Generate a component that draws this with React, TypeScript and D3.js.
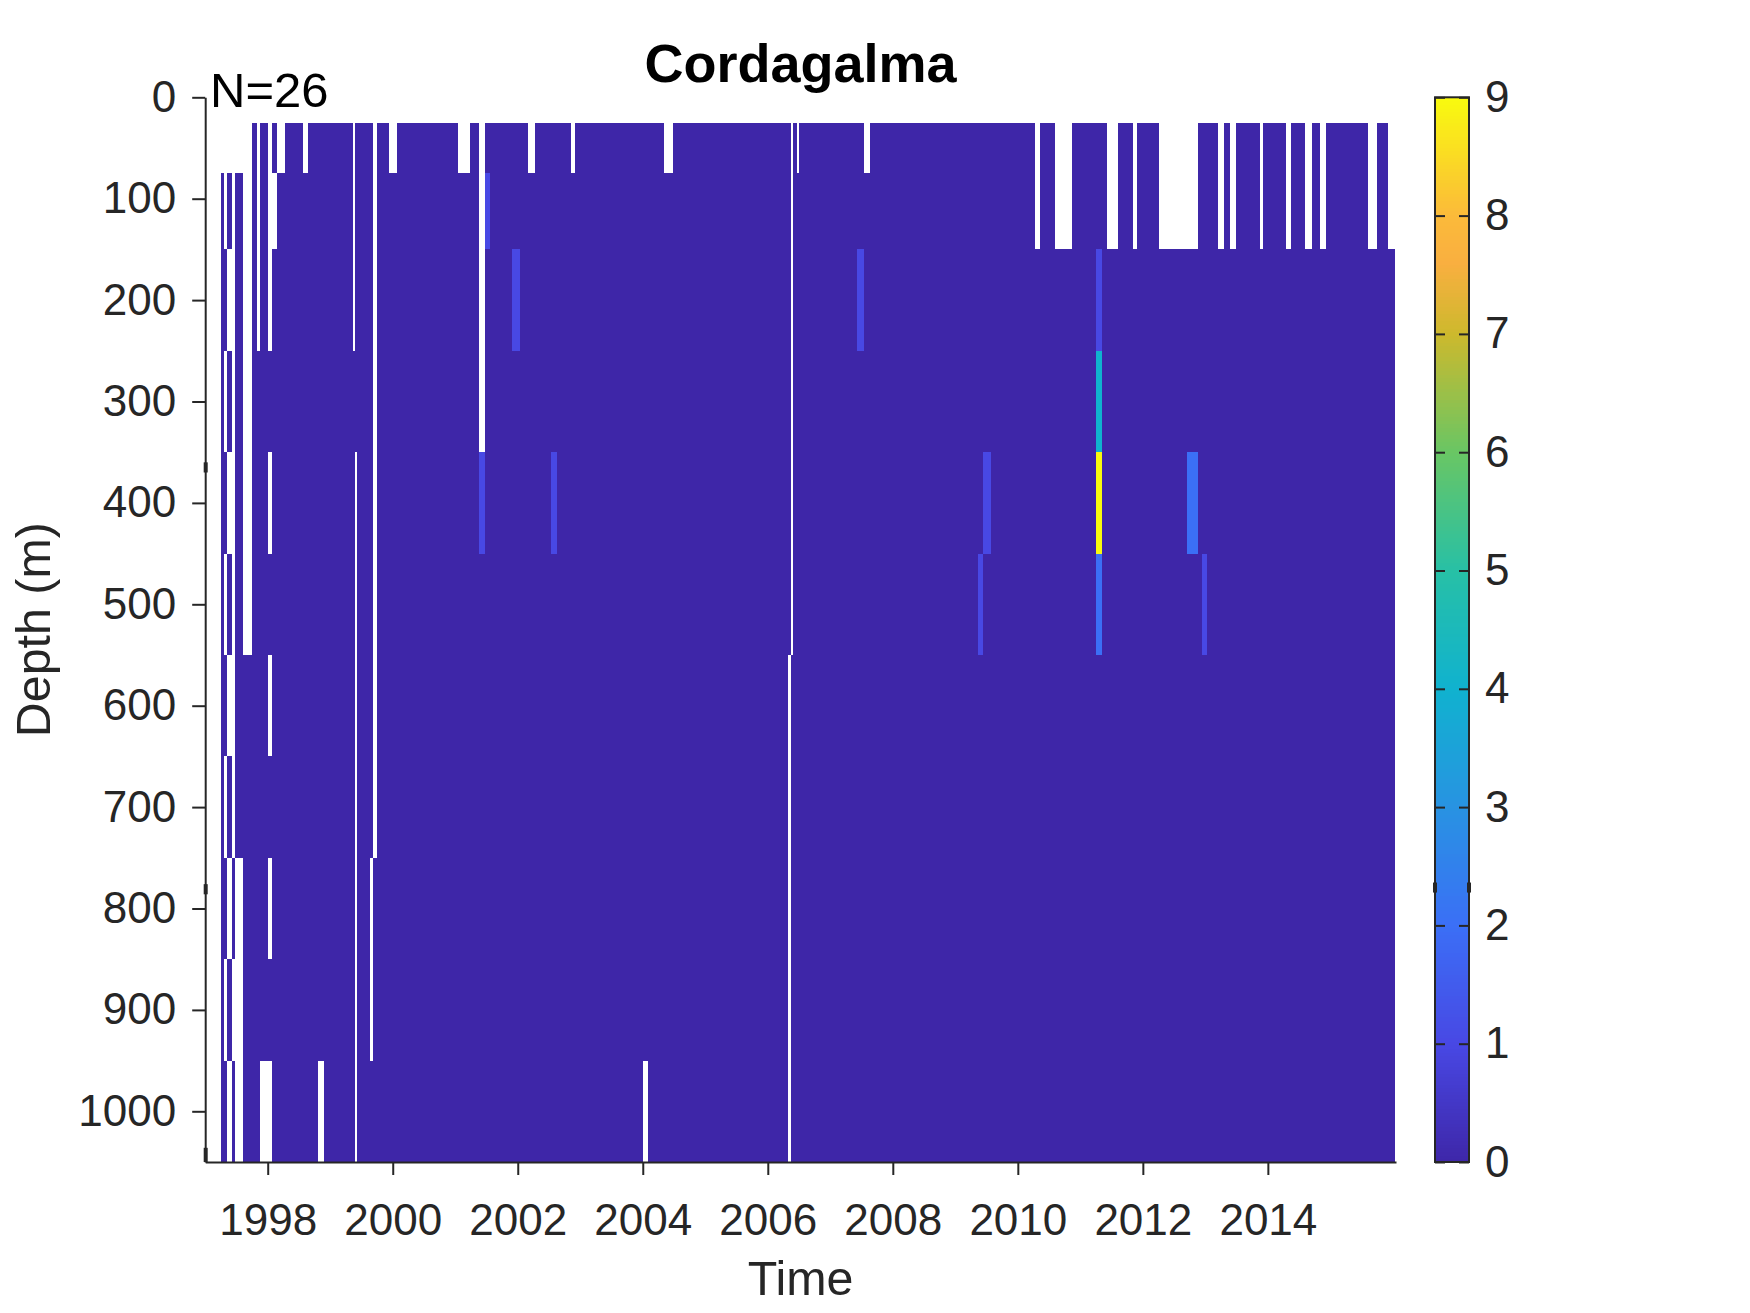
import React, { useEffect, useRef } from 'react'
import * as d3 from 'd3'

// ---- data ----
const title = 'Cordagalma'
const countLabel = 'N=26'

// depth bin edges (m): bins centred on 50, 100, 200 ... 1000
const depthEdges = [25, 75, 150, 250, 350, 450, 550, 650, 750, 850, 950, 1050]
const depthTicks = [0, 100, 200, 300, 400, 500, 600, 700, 800, 900, 1000]
const yearTicks = [1998, 2000, 2002, 2004, 2006, 2008, 2010, 2012, 2014]
const colorTicks = [0, 1, 2, 3, 4, 5, 6, 7, 8, 9]

// colour stops of the colour bar (value, colour)
const colorStops: [number, string][] = [
  [0, '#3e26a8'],
  [1, '#4848e4'],
  [2, '#3b6ff6'],
  [3, '#2893e2'],
  [4, '#10b2cf'],
  [5, '#27c0a6'],
  [6, '#69c664'],
  [7, '#cdb92d'],
  [7.6, '#f9af40'],
  [8, '#fbba3a'],
  [9, '#f9fb0e'],
]

// time columns: [start year, end year, value per depth bin] ('.' = no data)
const columns: [number, number, string][] = [
  [1997.253, 1997.301, '.0000000000'],
  [1997.301, 1997.354, '..0.0.0.0.0'],
  [1997.354, 1997.424, '.0.0.0.0.0.'],
  [1997.424, 1997.477, '........0.0'],
  [1997.477, 1997.61, '.0000000...'],
  [1997.61, 1997.754, '......00000'],
  [1997.754, 1997.824, '00000000000'],
  [1997.824, 1997.877, '...00000000'],
  [1997.877, 1998.01, '0000000000.'],
  [1998.01, 1998.074, '...0.0.0.0.'],
  [1998.074, 1998.144, '0.000000000'],
  [1998.144, 1998.277, '.0000000000'],
  [1998.277, 1998.57, '00000000000'],
  [1998.57, 1998.65, '.0000000000'],
  [1998.65, 1998.81, '00000000000'],
  [1998.81, 1998.9, '0000000000.'],
  [1998.9, 1999.37, '00000000000'],
  [1999.37, 1999.395, '...00000000'],
  [1999.395, 1999.43, '0000.......'],
  [1999.43, 1999.637, '00000000000'],
  [1999.637, 1999.69, '00000000..0'],
  [1999.69, 1999.744, '........000'],
  [1999.744, 1999.941, '00000000000'],
  [1999.941, 2000.064, '.0000000000'],
  [2000.064, 2001.05, '00000000000'],
  [2001.05, 2001.237, '.0000000000'],
  [2001.237, 2001.381, '00000000000'],
  [2001.381, 2001.477, '....1000000'],
  [2001.477, 2001.557, '01000000000'],
  [2001.557, 2001.914, '00000000000'],
  [2001.914, 2002.037, '00100000000'],
  [2002.037, 2002.17, '00000000000'],
  [2002.17, 2002.28, '.0000000000'],
  [2002.28, 2002.53, '00000000000'],
  [2002.53, 2002.63, '00001000000'],
  [2002.63, 2002.853, '00000000000'],
  [2002.853, 2002.917, '.0000000000'],
  [2002.917, 2004.0, '00000000000'],
  [2004.0, 2004.08, '0000000000.'],
  [2004.08, 2004.341, '00000000000'],
  [2004.341, 2004.48, '.0000000000'],
  [2004.48, 2006.33, '00000000000'],
  [2006.33, 2006.37, '000000.....'],
  [2006.37, 2006.405, '......00000'],
  [2006.405, 2006.464, '00000000000'],
  [2006.464, 2006.501, '.0000000000'],
  [2006.501, 2007.424, '00000000000'],
  [2007.424, 2007.541, '00100000000'],
  [2007.541, 2007.637, '.0000000000'],
  [2007.637, 2009.36, '00000000000'],
  [2009.36, 2009.44, '00000100000'],
  [2009.44, 2009.57, '00001000000'],
  [2009.57, 2010.277, '00000000000'],
  [2010.277, 2010.357, '..000000000'],
  [2010.357, 2010.597, '00000000000'],
  [2010.597, 2010.874, '..000000000'],
  [2010.874, 2011.253, '00000000000'],
  [2011.253, 2011.344, '00149200000'],
  [2011.344, 2011.424, '00000000000'],
  [2011.424, 2011.61, '..000000000'],
  [2011.61, 2011.84, '00000000000'],
  [2011.84, 2011.914, '..000000000'],
  [2011.914, 2012.261, '00000000000'],
  [2012.261, 2012.71, '..000000000'],
  [2012.71, 2012.89, '..002000000'],
  [2012.89, 2012.95, '00000000000'],
  [2012.95, 2013.02, '00000100000'],
  [2013.02, 2013.21, '00000000000'],
  [2013.21, 2013.301, '..000000000'],
  [2013.301, 2013.397, '00000000000'],
  [2013.397, 2013.493, '..000000000'],
  [2013.493, 2013.877, '00000000000'],
  [2013.877, 2013.93, '..000000000'],
  [2013.93, 2014.293, '00000000000'],
  [2014.293, 2014.373, '..000000000'],
  [2014.373, 2014.597, '00000000000'],
  [2014.597, 2014.714, '..000000000'],
  [2014.714, 2014.837, '00000000000'],
  [2014.837, 2014.933, '..000000000'],
  [2014.933, 2015.61, '00000000000'],
  [2015.61, 2015.749, '..000000000'],
  [2015.749, 2015.93, '00000000000'],
  [2015.93, 2016.037, '..000000000'],
]

// small rendering blips visible on the depth axis (m) and colour bar (value)
const axisBlips: [number, number][] = [[360, 370], [776, 786], [1036, 1050]]
const colorbarBlip = 2.32

const W = 1750
const H = 1313
const M = { left: 205.2, right: 1396, top: 97.3, bottom: 1162 }
const CB = { x0: 1435, x1: 1469 }
const FONT = '"Liberation Sans", Arial, Helvetica, sans-serif'
const INK = '#262626'

export default function App() {
  const svgRef = useRef<SVGSVGElement | null>(null)

  useEffect(() => {
    const svg = d3.select(svgRef.current)
    svg.selectAll('*').remove()

    const x = d3.scaleLinear().domain([1997, 2016.05]).range([M.left, M.right])
    const y = d3.scaleLinear().domain([0, 1050]).range([M.top, M.bottom])
    const color = d3
      .scaleLinear<string>()
      .domain(colorStops.map(d => d[0]))
      .range(colorStops.map(d => d[1]))
      .interpolate(d3.interpolateRgb)
      .clamp(true)

    // heat map cells
    const cells = columns.flatMap(([t0, t1, code]) =>
      code
        .split('')
        .map((c, r) => ({ t0, t1, r, v: c === '.' ? null : Number(c) }))
        .filter(d => d.v !== null)
    )
    svg
      .append('g')
      .attr('shape-rendering', 'crispEdges')
      .selectAll('rect')
      .data(cells)
      .join('rect')
      .attr('x', d => x(d.t0))
      .attr('width', d => x(d.t1) - x(d.t0))
      .attr('y', d => y(depthEdges[d.r]))
      .attr('height', d => y(depthEdges[d.r + 1]) - y(depthEdges[d.r]))
      .attr('fill', d => color(d.v as number))

    // axes
    const styleAxis = (g: any) => {
      g.select('.domain').attr('stroke', INK).attr('stroke-width', 2)
      g.selectAll('.tick line').attr('stroke', INK).attr('stroke-width', 2)
      g.selectAll('.tick text')
        .attr('fill', INK)
        .attr('font-size', 44)
        .attr('font-family', FONT)
    }

    svg
      .append('g')
      .attr('transform', `translate(${M.left},0)`)
      .call(d3.axisLeft(y).tickValues(depthTicks).tickFormat(d3.format('d')).tickSize(13).tickSizeOuter(0).tickPadding(16))
      .call(styleAxis)

    svg
      .append('g')
      .attr('transform', `translate(0,${M.bottom})`)
      .call(d3.axisBottom(x).tickValues(yearTicks).tickFormat(d3.format('d')).tickSize(13).tickSizeOuter(0).tickPadding(29))
      .call(styleAxis)

    svg
      .append('g')
      .selectAll('rect')
      .data(axisBlips)
      .join('rect')
      .attr('x', M.left - 1.5)
      .attr('width', 4)
      .attr('y', d => y(d[0]))
      .attr('height', d => y(d[1]) - y(d[0]))
      .attr('fill', INK)

    // colour bar
    const c = d3.scaleLinear().domain([0, 9]).range([M.bottom, M.top])
    const steps = d3.range(0, 9, 9 / 300)
    svg
      .append('g')
      .attr('shape-rendering', 'crispEdges')
      .selectAll('rect')
      .data(steps)
      .join('rect')
      .attr('x', CB.x0)
      .attr('width', CB.x1 - CB.x0)
      .attr('y', d => c(d + 9 / 300))
      .attr('height', d => c(d) - c(d + 9 / 300) + 0.6)
      .attr('fill', d => color(d + 4.5 / 300))

    svg
      .append('rect')
      .attr('x', CB.x0)
      .attr('y', M.top)
      .attr('width', CB.x1 - CB.x0)
      .attr('height', M.bottom - M.top)
      .attr('fill', 'none')
      .attr('stroke', INK)
      .attr('stroke-width', 2)

    svg
      .append('g')
      .attr('transform', `translate(${CB.x1},0)`)
      .call(d3.axisRight(c).tickValues(colorTicks).tickSize(-10).tickSizeOuter(0).tickPadding(16))
      .call(styleAxis)
      .call((g: any) => g.select('.domain').remove())

    svg
      .append('g')
      .attr('transform', `translate(${CB.x0},0)`)
      .call(d3.axisLeft(c).tickValues(colorTicks).tickSize(-10).tickSizeOuter(0).tickFormat(() => ''))
      .call(styleAxis)
      .call((g: any) => g.select('.domain').remove())

    svg
      .append('g')
      .selectAll('rect')
      .data([CB.x0, CB.x1])
      .join('rect')
      .attr('x', d => d - 2)
      .attr('width', 4)
      .attr('y', c(colorbarBlip) - 5)
      .attr('height', 10)
      .attr('fill', INK)

    // texts
    const cx = (M.left + M.right) / 2
    svg
      .append('text')
      .attr('x', cx)
      .attr('y', 82)
      .attr('text-anchor', 'middle')
      .attr('font-family', FONT)
      .attr('font-weight', 'bold')
      .attr('font-size', 54)
      .attr('fill', '#000')
      .text(title)

    svg
      .append('text')
      .attr('x', 210)
      .attr('y', 106.6)
      .attr('font-family', FONT)
      .attr('font-size', 49)
      .attr('fill', '#000')
      .text(countLabel)

    svg
      .append('text')
      .attr('x', cx)
      .attr('y', 1295)
      .attr('text-anchor', 'middle')
      .attr('font-family', FONT)
      .attr('font-size', 48.4)
      .attr('fill', INK)
      .text('Time')

    svg
      .append('text')
      .attr('transform', `translate(50,${(M.top + M.bottom) / 2}) rotate(-90)`)
      .attr('text-anchor', 'middle')
      .attr('font-family', FONT)
      .attr('font-size', 48.4)
      .attr('fill', INK)
      .text('Depth (m)')
  }, [])

  return (
    <svg
      ref={svgRef}
      width={W}
      height={H}
      viewBox={`0 0 ${W} ${H}`}
      style={{ position: 'absolute', left: 0, top: 0, background: '#fff' }}
    />
  )
}
